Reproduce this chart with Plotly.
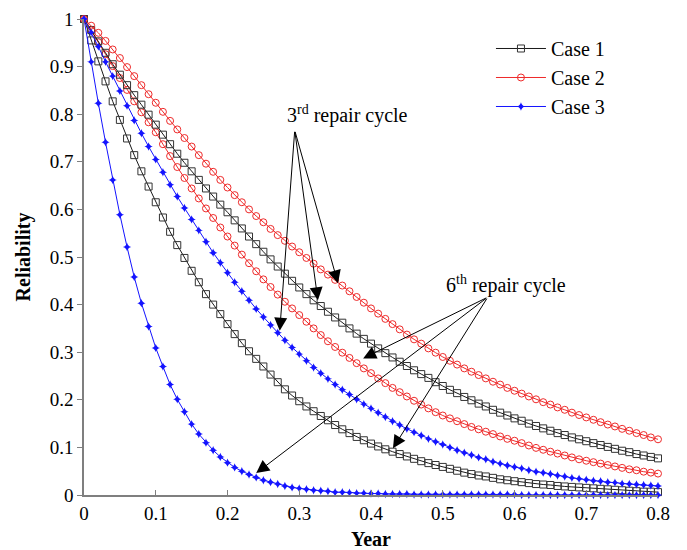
import plotly.graph_objects as go

# ---------------- data ----------------
year = [0.00, 0.01, 0.02, 0.03, 0.04, 0.05, 0.06, 0.07, 0.08, 0.09,
        0.10, 0.11, 0.12, 0.13, 0.14, 0.15, 0.16, 0.17, 0.18, 0.19,
        0.20, 0.21, 0.22, 0.23, 0.24, 0.25, 0.26, 0.27, 0.28, 0.29,
        0.30, 0.31, 0.32, 0.33, 0.34, 0.35, 0.36, 0.37, 0.38, 0.39,
        0.40, 0.41, 0.42, 0.43, 0.44, 0.45, 0.46, 0.47, 0.48, 0.49,
        0.50, 0.51, 0.52, 0.53, 0.54, 0.55, 0.56, 0.57, 0.58, 0.59,
        0.60, 0.61, 0.62, 0.63, 0.64, 0.65, 0.66, 0.67, 0.68, 0.69,
        0.70, 0.71, 0.72, 0.73, 0.74, 0.75, 0.76, 0.77, 0.78, 0.79,
        0.80]

# Case 1 (black, squares)
case1_3rd = [1.000, 0.977, 0.953, 0.929, 0.905, 0.883, 0.861, 0.840, 0.820, 0.799,
             0.778, 0.757, 0.737, 0.717, 0.698, 0.680, 0.662, 0.644, 0.627, 0.610,
             0.594, 0.577, 0.560, 0.543, 0.527, 0.511, 0.495, 0.480, 0.465, 0.450,
             0.436, 0.422, 0.409, 0.397, 0.385, 0.373, 0.362, 0.350, 0.339, 0.328,
             0.318, 0.308, 0.298, 0.289, 0.280, 0.271, 0.262, 0.254, 0.246, 0.237,
             0.229, 0.221, 0.214, 0.206, 0.199, 0.192, 0.186, 0.179, 0.173, 0.167,
             0.161, 0.156, 0.150, 0.145, 0.140, 0.135, 0.130, 0.126, 0.121, 0.117,
             0.113, 0.109, 0.105, 0.101, 0.097, 0.093, 0.090, 0.086, 0.083, 0.080,
             0.077]
case1_6th = [1.000, 0.955, 0.911, 0.869, 0.827, 0.788, 0.749, 0.714, 0.680, 0.648,
             0.615, 0.583, 0.553, 0.525, 0.498, 0.471, 0.447, 0.422, 0.400, 0.380,
             0.359, 0.338, 0.319, 0.302, 0.286, 0.270, 0.253, 0.237, 0.222, 0.209,
             0.197, 0.186, 0.176, 0.166, 0.157, 0.147, 0.138, 0.130, 0.122, 0.115,
             0.108, 0.102, 0.096, 0.091, 0.086, 0.081, 0.076, 0.071, 0.067, 0.063,
             0.059, 0.055, 0.051, 0.047, 0.044, 0.041, 0.039, 0.036, 0.033, 0.031,
             0.029, 0.027, 0.025, 0.023, 0.022, 0.021, 0.019, 0.018, 0.017, 0.016,
             0.015, 0.014, 0.013, 0.012, 0.011, 0.010, 0.009, 0.008, 0.007, 0.007,
             0.006]

# Case 2 (red, circles)
case2_3rd = [1.000, 0.986, 0.971, 0.954, 0.936, 0.918, 0.899, 0.880, 0.861, 0.842,
             0.824, 0.805, 0.786, 0.768, 0.750, 0.732, 0.714, 0.696, 0.679, 0.662,
             0.646, 0.630, 0.615, 0.600, 0.586, 0.573, 0.559, 0.546, 0.534, 0.522,
             0.510, 0.498, 0.486, 0.474, 0.463, 0.452, 0.440, 0.428, 0.416, 0.404,
             0.392, 0.381, 0.370, 0.359, 0.348, 0.337, 0.327, 0.318, 0.308, 0.299,
             0.290, 0.282, 0.274, 0.266, 0.259, 0.252, 0.245, 0.238, 0.232, 0.225,
             0.219, 0.213, 0.207, 0.201, 0.195, 0.190, 0.184, 0.179, 0.173, 0.168,
             0.163, 0.158, 0.153, 0.148, 0.144, 0.139, 0.135, 0.130, 0.126, 0.121,
             0.117]
case2_6th = [1.000, 0.976, 0.951, 0.926, 0.901, 0.876, 0.851, 0.827, 0.804, 0.783,
             0.762, 0.737, 0.712, 0.689, 0.666, 0.644, 0.623, 0.602, 0.582, 0.562,
             0.543, 0.524, 0.505, 0.487, 0.470, 0.453, 0.437, 0.421, 0.406, 0.392,
             0.378, 0.364, 0.350, 0.336, 0.323, 0.311, 0.299, 0.288, 0.277, 0.266,
             0.256, 0.245, 0.235, 0.225, 0.216, 0.207, 0.198, 0.190, 0.182, 0.174,
             0.167, 0.161, 0.155, 0.149, 0.143, 0.138, 0.133, 0.128, 0.123, 0.118,
             0.114, 0.109, 0.104, 0.099, 0.095, 0.091, 0.087, 0.083, 0.079, 0.075,
             0.072, 0.069, 0.066, 0.063, 0.060, 0.057, 0.054, 0.052, 0.049, 0.047,
             0.045]

# Case 3 (blue, stars)
case3_3rd = [1.000, 0.972, 0.942, 0.910, 0.880, 0.849, 0.818, 0.787, 0.760, 0.732,
             0.705, 0.678, 0.652, 0.627, 0.603, 0.579, 0.556, 0.532, 0.509, 0.488,
             0.467, 0.447, 0.428, 0.409, 0.391, 0.374, 0.357, 0.341, 0.325, 0.310,
             0.296, 0.282, 0.268, 0.256, 0.244, 0.232, 0.221, 0.211, 0.201, 0.191,
             0.182, 0.173, 0.164, 0.155, 0.147, 0.139, 0.132, 0.125, 0.118, 0.112,
             0.106, 0.100, 0.094, 0.089, 0.084, 0.079, 0.075, 0.070, 0.066, 0.062,
             0.059, 0.056, 0.052, 0.049, 0.047, 0.044, 0.041, 0.039, 0.036, 0.034,
             0.032, 0.030, 0.029, 0.027, 0.026, 0.024, 0.023, 0.022, 0.021, 0.020,
             0.019]
case3_6th = [1.000, 0.910, 0.823, 0.741, 0.662, 0.589, 0.521, 0.458, 0.403, 0.354,
             0.309, 0.270, 0.232, 0.201, 0.175, 0.149, 0.128, 0.110, 0.094, 0.080,
             0.068, 0.058, 0.050, 0.043, 0.037, 0.031, 0.027, 0.023, 0.019, 0.016,
             0.014, 0.012, 0.010, 0.009, 0.008, 0.006, 0.006, 0.005, 0.004, 0.004,
             0.003, 0.003, 0.002, 0.002, 0.002, 0.002, 0.001, 0.001, 0.001, 0.001,
             0.001, 0.001, 0.001, 0.001, 0.001, 0.001, 0.001, 0.001, 0.001, 0.001,
             0.001, 0.000, 0.000, 0.000, 0.000, 0.000, 0.000, 0.000, 0.000, 0.000,
             0.000, 0.000, 0.000, 0.000, 0.000, 0.000, 0.000, 0.000, 0.000, 0.000,
             0.000]

case_names = ["Case 1", "Case 2", "Case 3"]

# annotation anchors (data coordinates)
label_3rd = (0.367, 0.799)
tail_3rd = (0.2937, 0.766)
tips_3rd = [(0.2728, 0.345), (0.326, 0.409), (0.354, 0.445)]
label_6th = (0.588, 0.443)
tail_6th = (0.5627, 0.4156)
tips_6th = [(0.389, 0.287), (0.4306, 0.098), (0.240, 0.046)]

# ---------------- styles ----------------
FONT = "Liberation Serif"
BLACK = "#1a1a1a"
RED = "#ee2a2a"
BLUE = "#1414ff"

styles = [
    dict(line=dict(color=BLACK, width=1),
         marker=dict(symbol="square-open", size=7, color="#333333", line=dict(width=1))),
    dict(line=dict(color=RED, width=1),
         marker=dict(symbol="circle-open", size=7, color=RED, line=dict(width=1))),
    dict(line=dict(color=BLUE, width=1),
         marker=dict(symbol="star-diamond", size=6, color=BLUE)),
]

series = [
    (case1_3rd, case1_6th),
    (case2_3rd, case2_6th),
    (case3_3rd, case3_6th),
]

fig = go.Figure()
for i, (s3, s6) in enumerate(series):
    st = styles[i]
    fig.add_trace(go.Scatter(x=year, y=s6, mode="lines+markers", name=case_names[i],
                             showlegend=False, line=st["line"], marker=st["marker"],
                             cliponaxis=False, legendgroup=case_names[i]))
for i, (s3, s6) in enumerate(series):
    st = styles[i]
    fig.add_trace(go.Scatter(x=year, y=s3, mode="lines+markers", name=case_names[i],
                             showlegend=True, line=st["line"], marker=st["marker"],
                             cliponaxis=False, legendgroup=case_names[i]))

annotations = []
for (tx, ty) in tips_3rd:
    annotations.append(dict(x=tx, y=ty, ax=tail_3rd[0], ay=tail_3rd[1],
                            xref="x", yref="y", axref="x", ayref="y", text="",
                            showarrow=True, arrowhead=2, arrowsize=2.6, arrowwidth=1,
                            arrowcolor="black", standoff=0))
for (tx, ty) in tips_6th:
    annotations.append(dict(x=tx, y=ty, ax=tail_6th[0], ay=tail_6th[1],
                            xref="x", yref="y", axref="x", ayref="y", text="",
                            showarrow=True, arrowhead=2, arrowsize=2.6, arrowwidth=1,
                            arrowcolor="black", standoff=0))
annotations.append(dict(x=label_3rd[0], y=label_3rd[1], xref="x", yref="y",
                        text="3<sup>rd</sup> repair cycle", showarrow=False,
                        font=dict(family=FONT, size=20, color="black")))
annotations.append(dict(x=label_6th[0], y=label_6th[1], xref="x", yref="y",
                        text="6<sup>th</sup> repair cycle", showarrow=False,
                        font=dict(family=FONT, size=20, color="black")))

axis_common = dict(showgrid=False, zeroline=False, showline=True, automargin=False,
                   linecolor="#7f7f7f", linewidth=1.5, ticklen=5, tickcolor="#7f7f7f",
                   ticklabeloverflow="allow",
                   tickfont=dict(family=FONT, size=19, color="black"))

# the page body adds an 8px offset, so the figure is sized/placed to compensate
fig.update_layout(
    width=679, height=542,
    margin=dict(l=76, r=29, t=11, b=55),
    plot_bgcolor="white", paper_bgcolor="white",
    font=dict(family=FONT, color="black"),
    xaxis=dict(range=[0, 0.8], dtick=0.1, tick0=0, ticks="inside",
               title=dict(text="<b>Year</b>", font=dict(family=FONT, size=20), standoff=9),
               **axis_common),
    yaxis=dict(range=[0, 1], dtick=0.1, tick0=0, ticks="outside",
               title=dict(text="<b>Reliability</b>", font=dict(family=FONT, size=20), standoff=14),
               **axis_common),
    legend=dict(x=0.709, y=0.979, xanchor="left", yanchor="top",
                font=dict(family=FONT, size=20), bgcolor="rgba(0,0,0,0)",
                itemwidth=50, tracegroupgap=0),
    annotations=annotations,
)

fig.write_html("out.html")
